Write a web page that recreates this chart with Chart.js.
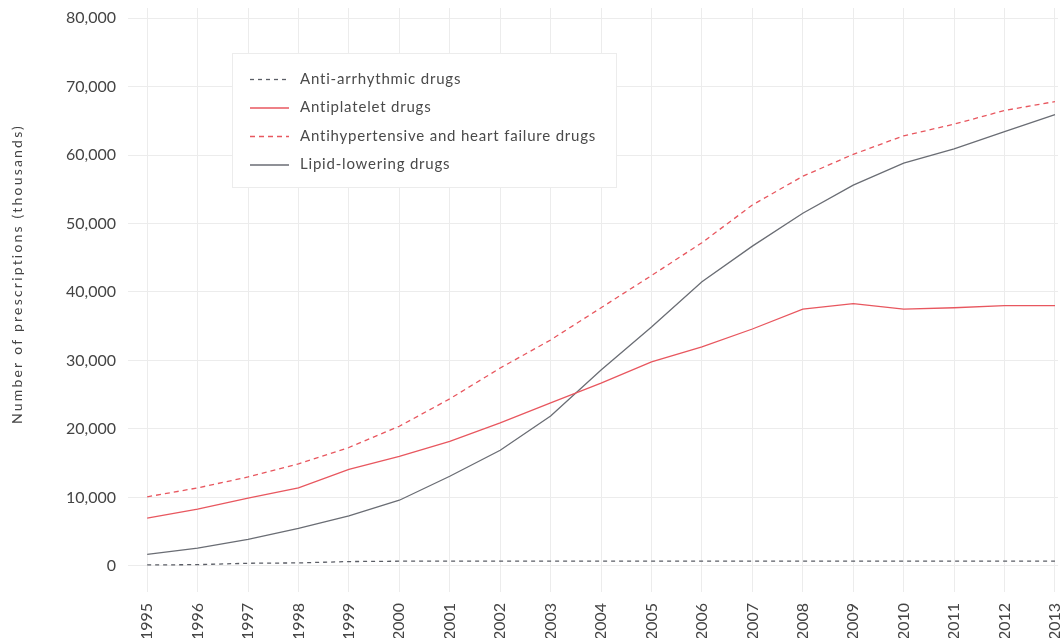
<!DOCTYPE html>
<html>
<head>
<meta charset="utf-8">
<script src="https://cdn.jsdelivr.net/npm/chart.js@4/dist/chart.umd.min.js"></script>
<style>
  html, body { margin: 0; padding: 0; background: #fff; overflow: hidden; }
  #wrap { width: 1064px; height: 638px; position: relative; }
</style>
</head>
<body>
<div id="wrap"><canvas id="chart"></canvas></div>
<script>
// Data
const years = [1995, 1996, 1997, 1998, 1999, 2000, 2001, 2002, 2003, 2004,
               2005, 2006, 2007, 2008, 2009, 2010, 2011, 2012, 2013];
const antiArrhythmic = [150, 200, 400, 450, 650, 700, 700, 700, 700, 700,
                        700, 700, 700, 700, 700, 700, 700, 700, 700];
const antiplatelet = [7000, 8300, 9900, 11400, 14100, 16000, 18200, 20900, 23800, 26700,
                      29800, 32000, 34600, 37500, 38300, 37500, 37700, 38000, 38000];
const antihypertensive = [10100, 11400, 13000, 14900, 17300, 20400, 24400, 28900, 33000, 37700,
                          42400, 47200, 52700, 56900, 60100, 62800, 64500, 66500, 67800];
const lipidLowering = [1700, 2600, 3900, 5500, 7300, 9600, 13100, 16900, 21900, 28600,
                       34900, 41500, 46700, 51500, 55600, 58800, 60900, 63400, 65900];
const seriesNames = ["Anti-arrhythmic drugs", "Antiplatelet drugs",
                     "Antihypertensive and heart failure drugs", "Lipid-lowering drugs"];
const yTicks = [0, 10000, 20000, 30000, 40000, 50000, 60000, 70000, 80000];
const yTitle = "Number of prescriptions (thousands)";

const RED = "#e8575f";
const GREY = "#6a6d74";
const FONT = "Lato, 'Open Sans', sans-serif";

function pts(vals) {
  return years.map((y, i) => ({ x: y, y: vals[i] }));
}

// legend box inside the plot + spaced-out y title, like the reference
const extras = {
  id: "extras",
  afterDatasetsDraw(chart) {
    const ctx = chart.ctx;
    ctx.save();
    ctx.fillStyle = "#fff";
    ctx.fillRect(232, 53, 385, 135);
    ctx.strokeStyle = "#ececec";
    ctx.lineWidth = 1;
    ctx.strokeRect(232.5, 53.5, 384, 134);
    chart.data.datasets.forEach((ds, i) => {
      const y = 79 + i * 28.5;
      ctx.beginPath();
      ctx.strokeStyle = ds.borderColor;
      ctx.lineWidth = ds.borderWidth;
      ctx.setLineDash(ds.borderDash || []);
      ctx.moveTo(250, y + 0.5);
      ctx.lineTo(289, y + 0.5);
      ctx.stroke();
      ctx.setLineDash([]);
      ctx.fillStyle = "#4a4a4a";
      ctx.font = "15px " + FONT;
      ctx.letterSpacing = "0.8px";
      ctx.textBaseline = "middle";
      ctx.fillText(ds.label, 300, y);
    });
    ctx.restore();

    ctx.save();
    ctx.translate(17, 274);
    ctx.rotate(-Math.PI / 2);
    ctx.fillStyle = "#444";
    ctx.font = "14px " + FONT;
    ctx.letterSpacing = "2.2px";
    ctx.textAlign = "center";
    ctx.textBaseline = "middle";
    ctx.fillText(yTitle, 0, 0);
    ctx.restore();
  }
};

new Chart(document.getElementById("chart"), {
  type: "line",
  data: {
    datasets: [
      { label: seriesNames[0], data: pts(antiArrhythmic), borderColor: "#5b5e66",
        borderDash: [4, 4], borderWidth: 1.3 },
      { label: seriesNames[1], data: pts(antiplatelet), borderColor: RED, borderWidth: 1.3 },
      { label: seriesNames[2], data: pts(antihypertensive), borderColor: RED,
        borderDash: [5, 4], borderWidth: 1.3 },
      { label: seriesNames[3], data: pts(lipidLowering), borderColor: GREY, borderWidth: 1.3 }
    ]
  },
  options: {
    responsive: true,
    maintainAspectRatio: false,
    animation: false,
    elements: { point: { radius: 0 }, line: { tension: 0 } },
    layout: { padding: { top: 8, right: 6, left: 0, bottom: 0 } },
    plugins: { legend: { display: false }, tooltip: { enabled: false } },
    scales: {
      x: {
        type: "linear",
        min: 1994.62,
        max: 2013.06,
        afterBuildTicks: s => { s.ticks = years.map(v => ({ value: v })); },
        afterFit: s => { s.height = 46; s.paddingLeft = 0; s.paddingRight = 0; },
        grid: { color: "#ececec", drawTicks: false },
        border: { display: false },
        ticks: {
          autoSkip: false, minRotation: 90, maxRotation: 90, padding: 11,
          color: "#444", font: { family: FONT, size: 16 },
          callback: v => String(v)
        }
      },
      y: {
        min: -3796,
        max: 81460,
        afterBuildTicks: s => { s.ticks = yTicks.map(v => ({ value: v })); },
        afterFit: s => { s.width = 128; s.paddingTop = 0; s.paddingBottom = 0; },
        grid: { color: "#ececec", drawTicks: false },
        border: { display: false },
        ticks: { padding: 12, color: "#444", font: { family: FONT, size: 16 },
                 callback: v => v.toLocaleString("en-US") }
      }
    }
  },
  plugins: [extras]
});
</script>
</body>
</html>
